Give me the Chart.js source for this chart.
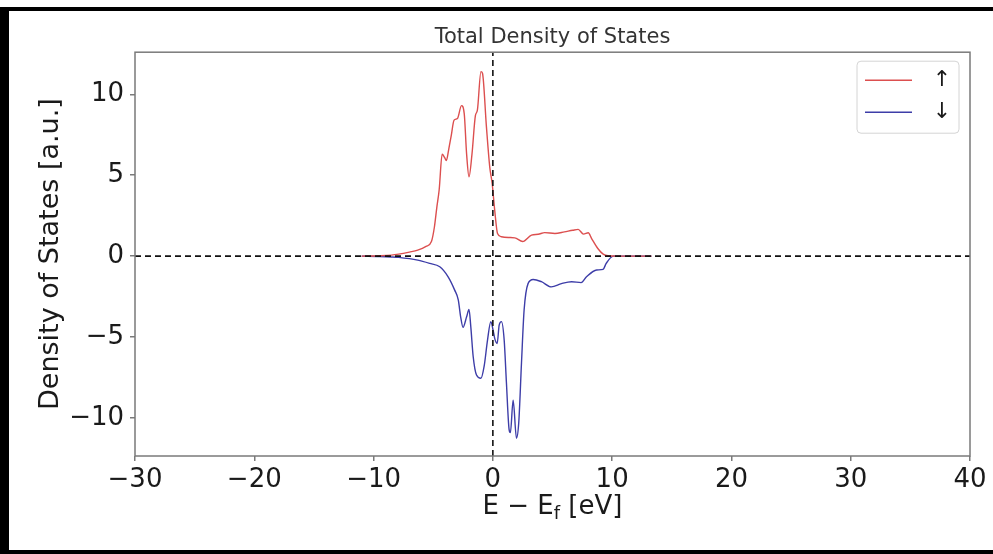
<!DOCTYPE html>
<html>
<head>
<meta charset="utf-8">
<script src="https://cdn.jsdelivr.net/npm/chart.js@4.4.1/dist/chart.umd.min.js"></script>
<style>
  html, body { margin: 0; padding: 0; background: #fff; }
  #wrap { position: relative; width: 993px; height: 554px; }
  .bar { position: absolute; background: #000; }
</style>
</head>
<body>
<div id="wrap">
  <canvas id="dos"></canvas>
  <div class="bar" style="left:0;top:7px;width:993px;height:4px"></div>
  <div class="bar" style="left:0;top:7px;width:9px;height:547px"></div>
  <div class="bar" style="left:0;top:550px;width:993px;height:4px"></div>
</div>
<script>
// spin up channel (E - Ef in eV, DOS in a.u.)
const upEnergy = [-11, -9.5, -8.5, -7.9, -7, -6.3, -5.6, -5.15, -4.9, -4.7, -4.5, -4.25, -4.05, -3.9, -3.7, -3.5,
  -3.25, -2.97, -2.63, -2.4, -2.2, -2.0, -1.75, -1.46, -1.3, -1.0, -0.87, -0.54, -0.26, -0.06, 0.16, 0.39,
  0.72, 1.3, 1.84, 2.5, 3.24, 3.8, 4.35, 5.2, 6.0, 6.7, 7.15, 7.6, 8.0, 8.27, 8.8, 9.25, 9.65, 10.5, 13.3];
const upDos = [0, 0.02, 0.06, 0.12, 0.25, 0.37, 0.6, 0.9, 1.8, 3.0, 4.1, 6.3, 6.1, 5.9, 6.6, 7.4,
  8.4, 8.5, 9.3, 8.8, 6.3, 4.9, 6.3, 8.7, 9.0, 11.4, 11.3, 8.0, 5.5, 4.5, 2.8, 1.4,
  1.2, 1.15, 1.13, 0.9, 1.3, 1.35, 1.45, 1.4, 1.5, 1.6, 1.65, 1.36, 1.44, 1.1, 0.47, 0.12, 0.02, 0, 0];

// spin down channel
const downEnergy = [-11, -9.5, -8.5, -7.9, -6.3, -5.3, -4.45, -3.75, -3.2, -2.9, -2.7, -2.5, -2.2, -2.0, -1.85,
  -1.65, -1.37, -1.0, -0.73, -0.45, -0.17, 0.02, 0.16, 0.36, 0.53, 0.72, 0.95, 1.14, 1.36, 1.47, 1.7,
  1.98, 2.17, 2.4, 2.62, 2.95, 3.38, 4.07, 4.9, 5.75, 6.6, 7.4, 7.85, 8.7, 9.24, 9.5, 10.1, 13.3];
const downDos = [0, -0.02, -0.05, -0.08, -0.25, -0.45, -0.66, -1.28, -2.1, -2.7, -3.75, -4.4, -3.75, -3.3, -4.36,
  -6.2, -7.35, -7.55, -6.8, -5.2, -4.05, -4.57, -5.1, -5.4, -4.26, -4.05, -5.2, -7.86, -10.7, -10.9, -8.9,
  -11.25, -10.3, -6.6, -3.33, -1.7, -1.44, -1.58, -1.9, -1.7, -1.58, -1.64, -1.28, -0.86, -0.82, -0.45, 0, 0];

const xTicks = [-30, -20, -10, 0, 10, 20, 30, 40];
const yTicks = [-10, -5, 0, 5, 10];
const xRange = [-30, 40];
const yRange = [-12.35, 12.6];
const seriesLabels = ['\u2191', '\u2193'];

const FONT = "'DejaVu Sans', sans-serif";
const frameColor = '#7a7a7a';

const toPoints = (xs, ys) => xs.map((x, i) => ({ x: x, y: ys[i] }));
const minus = v => (v < 0 ? '\u2212' + Math.abs(v) : String(v));

// box around the axes + the E - E_f label with a subscript
const framePlugin = {
  id: 'frame',
  afterDraw(chart) {
    const { ctx, chartArea: a } = chart;
    ctx.save();
    ctx.strokeStyle = frameColor;
    ctx.lineWidth = 1.5;
    ctx.strokeRect(a.left, a.top, a.right - a.left, a.bottom - a.top);

    // x axis label
    const big = '26px ' + FONT, small = '18px ' + FONT;
    ctx.fillStyle = '#1a1a1a';
    ctx.textBaseline = 'alphabetic';
    ctx.font = big;
    const p1 = 'E \u2212 E', p3 = ' [eV]';
    const w1 = ctx.measureText(p1).width, w3 = ctx.measureText(p3).width;
    ctx.font = small;
    const w2 = ctx.measureText('f').width;
    const cx = (a.left + a.right) / 2;
    const base = a.bottom + 58;
    let x = cx - (w1 + w2 + w3) / 2;
    ctx.textAlign = 'left';
    ctx.font = big;
    ctx.fillText(p1, x, base);
    x += w1;
    ctx.font = small;
    ctx.fillText('f', x, base + 5);
    x += w2;
    ctx.font = big;
    ctx.fillText(p3, x, base);
    ctx.restore();
  }
};

// matplotlib style legend in the upper right corner
const cornerLegend = {
  id: 'cornerLegend',
  afterDraw(chart) {
    const { ctx, chartArea: a } = chart;
    const w = 102, h = 72;
    const bx = a.right - 11 - w, by = a.top + 9;
    ctx.save();
    ctx.fillStyle = 'rgba(255,255,255,0.85)';
    ctx.strokeStyle = '#d4d4d4';
    ctx.lineWidth = 1;
    ctx.beginPath();
    ctx.roundRect(bx, by, w, h, 4);
    ctx.fill();
    ctx.stroke();
    const rows = [19, 51];
    [0, 1].forEach(i => {
      const ds = chart.data.datasets[i];
      ctx.strokeStyle = ds.borderColor;
      ctx.lineWidth = 1.6;
      ctx.beginPath();
      ctx.moveTo(bx + 8, by + rows[i]);
      ctx.lineTo(bx + 55, by + rows[i]);
      ctx.stroke();
      ctx.fillStyle = '#1a1a1a';
      ctx.font = '22px ' + FONT;
      ctx.textAlign = 'center';
      ctx.textBaseline = 'middle';
      ctx.fillText(ds.label, bx + 85, by + rows[i]);
    });
    ctx.restore();
  }
};

new Chart(document.getElementById('dos'), {
  type: 'line',
  data: {
    datasets: [
      {
        label: seriesLabels[0],
        data: toPoints(upEnergy, upDos),
        borderColor: '#dc4f4f',
        borderWidth: 1.4,
        pointRadius: 0,
        cubicInterpolationMode: 'monotone',
        order: 1
      },
      {
        label: seriesLabels[1],
        data: toPoints(downEnergy, downDos),
        borderColor: '#3d3da8',
        borderWidth: 1.4,
        pointRadius: 0,
        cubicInterpolationMode: 'monotone',
        order: 1
      },
      {
        label: 'zero',
        data: [{ x: xRange[0], y: 0 }, { x: xRange[1], y: 0 }],
        borderColor: '#111',
        borderWidth: 1.6,
        borderDash: [6, 4],
        pointRadius: 0,
        order: 0
      },
      {
        label: 'fermi',
        data: [{ x: 0, y: yRange[0] }, { x: 0, y: yRange[1] }],
        borderColor: '#111',
        borderWidth: 1.6,
        borderDash: [6, 4],
        pointRadius: 0,
        order: 0
      }
    ]
  },
  options: {
    responsive: true,
    maintainAspectRatio: false,
    animation: false,
    layout: { padding: { left: 0, right: 23, top: 0, bottom: 0 } },
    plugins: {
      legend: { display: false },
      tooltip: { enabled: false },
      title: {
        display: true,
        fullSize: false,
        text: 'Total Density of States',
        color: '#333',
        font: { family: FONT, size: 21, weight: 'normal' },
        padding: { top: 25, bottom: 2 }
      }
    },
    scales: {
      x: {
        type: 'linear',
        min: xRange[0],
        max: xRange[1],
        afterBuildTicks: s => { s.ticks = xTicks.map(v => ({ value: v })); },
        afterFit: s => { s.height = 98; },
        grid: { display: true, drawOnChartArea: false, drawTicks: true, tickLength: 5, color: frameColor, lineWidth: 1.5 },
        border: { display: false },
        ticks: {
          color: '#1a1a1a',
          font: { family: FONT, size: 26, lineHeight: 1 },
          padding: 6,
          maxRotation: 0,
          callback: v => minus(v)
        }
      },
      y: {
        type: 'linear',
        min: yRange[0],
        max: yRange[1],
        afterBuildTicks: s => { s.ticks = yTicks.map(v => ({ value: v })); },
        afterFit: s => { s.width = 135; },
        grid: { display: true, drawOnChartArea: false, drawTicks: true, tickLength: 5, color: frameColor, lineWidth: 1.5 },
        border: { display: false },
        ticks: {
          color: '#1a1a1a',
          font: { family: FONT, size: 26 },
          padding: 6,
          callback: v => minus(v)
        },
        title: {
          display: true,
          text: 'Density of States [a.u.]',
          color: '#1a1a1a',
          font: { family: FONT, size: 27, lineHeight: 1 },
          padding: { top: 37, bottom: 0 }
        }
      }
    }
  },
  plugins: [framePlugin, cornerLegend]
});
</script>
</body>
</html>
